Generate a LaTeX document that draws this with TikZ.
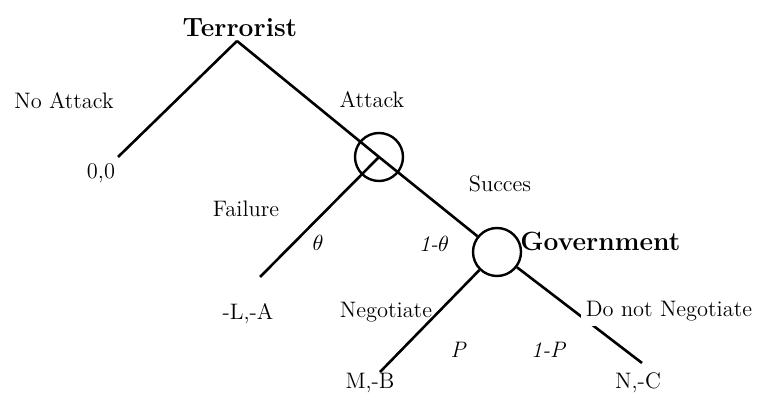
\documentclass[tikz,border=0pt]{standalone}
\usepackage{xcolor}
\usepackage{amssymb}
\usepackage{tikz}

\begin{document}
\begin{tikzpicture}[x=0.5pt,y=-0.5pt,
  branch/.style={line width=1.3pt},
  chance/.style={circle,draw,line width=1.2pt,minimum size=24pt,inner sep=0pt},
  lbl/.style={font=\fontsize{11.2}{13}\selectfont,inner sep=1pt},
  player/.style={font=\fontsize{13.2}{15}\selectfont\bfseries,inner sep=1pt},
  prob/.style={font=\fontsize{11.2}{13}\selectfont\itshape,inner sep=1pt}]
\useasboundingbox (0,0) rectangle (770,394);
\node[player] (terr) at (240,28) {Terrorist};
\coordinate (root) at (237,41);
\node[chance] (c1) at (379,157) {};
\node[chance] (c2) at (497,252) {};
\node[player,anchor=west] (gov) at (518,241) {Government};
\coordinate (noEnd) at (118,157);
\coordinate (failEnd) at (260,277);
\coordinate (negEnd) at (380,372);
\coordinate (dnnEnd) at (642,363);
\draw[branch] (root) -- (noEnd);
\draw[branch] (root) -- (c1.center) -- (c2);
\draw[branch] (c1.center) -- (failEnd);
\draw[branch] (c2) -- (negEnd);
\draw[branch] (c2) -- (dnnEnd);
\node[lbl] (noAtt) at (64,101) {No Attack};
\node[lbl] (att) at (372,100) {Attack};
\node[lbl] (succ) at (500,184) {Succes};
\node[lbl] (fail) at (246,209) {Failure};
\node[lbl] (neg) at (386,312) {Negotiate};
\node[lbl,fill=white,inner sep=2.5pt] (dnn) at (669,311) {Do not Negotiate};
\node[prob] (th) at (318,243) {$\theta$};
\node[prob] (nth) at (434,244) {1-$\theta$};
\node[prob] (pp) at (458,350) {P};
\node[prob] (np) at (548,350) {1-P};
\node[lbl] (pNo) at (101,173) {0,0};
\node[lbl] (pFail) at (248,314) {-L,-A};
\node[lbl] (pNeg) at (370,383) {M,-B};
\node[lbl] (pDnn) at (638,383) {N,-C};
\end{tikzpicture}
\end{document}
